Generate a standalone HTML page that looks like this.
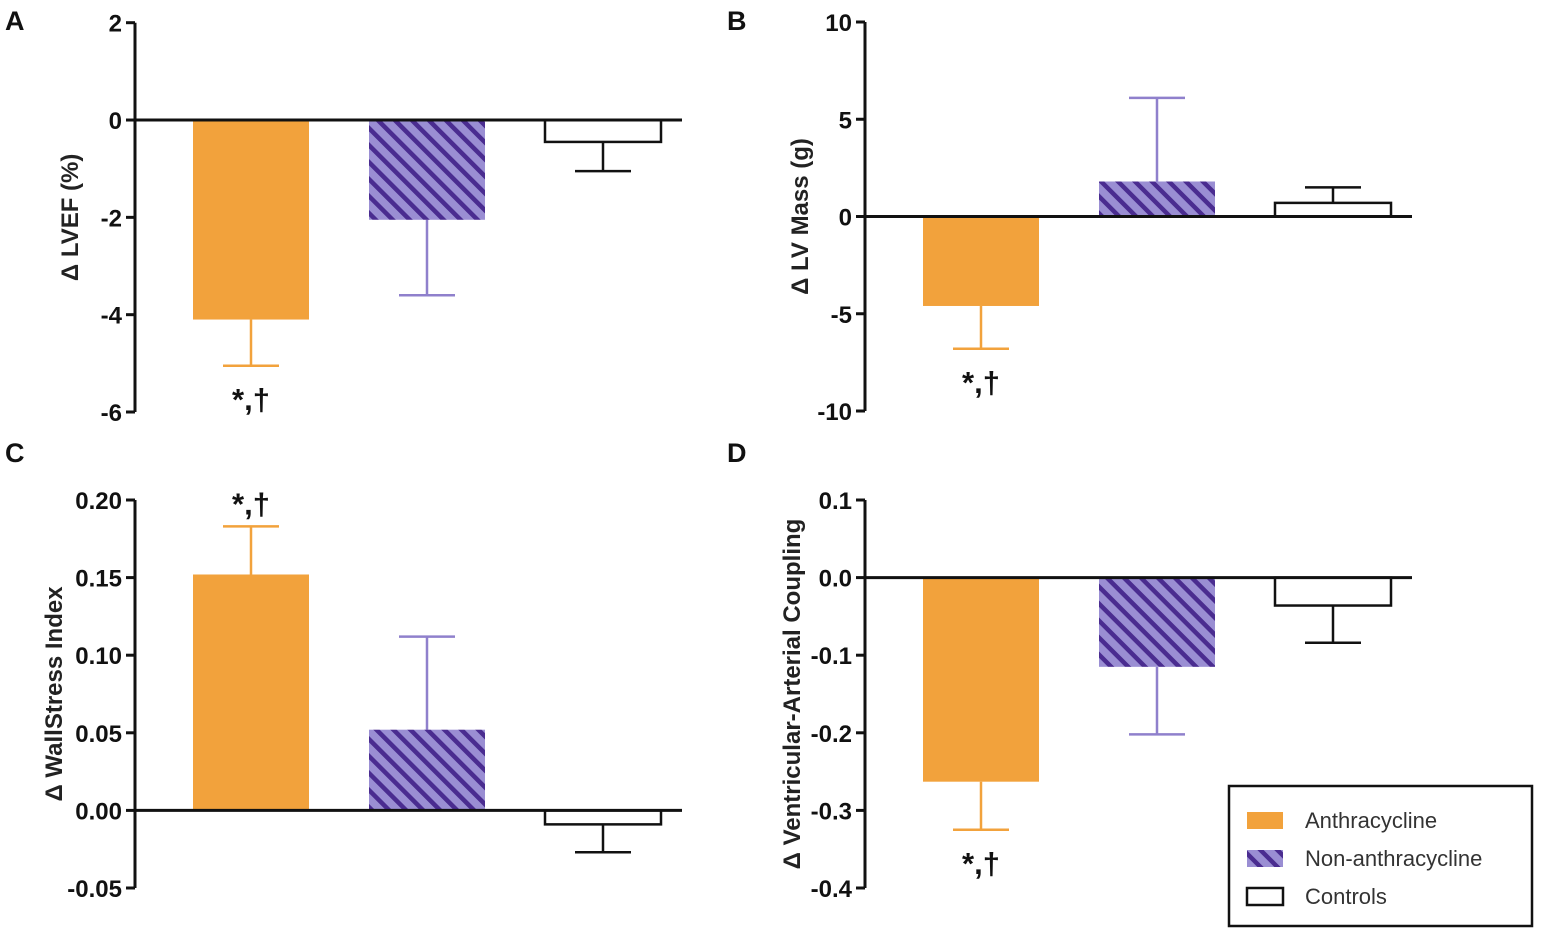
<!DOCTYPE html>
<html><head><meta charset="utf-8"><style>
body{margin:0;background:#fff}
svg{display:block}
text{font-family:"Liberation Sans",Arial,sans-serif}
</style></head><body>
<svg id="chart" width="1550" height="945" viewBox="0 0 1550 945" xmlns="http://www.w3.org/2000/svg">
<defs>
<pattern id="hatch" patternUnits="userSpaceOnUse" width="12" height="12" patternTransform="rotate(-45)">
<rect width="12" height="12" fill="#9a8ed3"/>
<rect x="0" y="0" width="4.5" height="12" fill="#4a2c90"/>
</pattern>
</defs>
</svg>
<script>
const groups = ["Anthracycline","Non-anthracycline","Controls"];
const valsA = [-4.1,-2.05,-0.45];
const errA = [-5.05,-3.6,-1.05];
const ticksA = [2,0,-2,-4,-6];
const valsB = [-4.6,1.8,0.7];
const errB = [-6.8,6.1,1.5];
const ticksB = [10,5,0,-5,-10];
const valsC = [0.152,0.052,-0.009];
const errC = [0.183,0.112,-0.027];
const ticksC = [0.20,0.15,0.10,0.05,0.00,-0.05];
const valsD = [-0.263,-0.115,-0.036];
const errD = [-0.325,-0.202,-0.084];
const ticksD = [0.1,0.0,-0.1,-0.2,-0.3,-0.4];

const svg=document.getElementById('chart');
const NS='http://www.w3.org/2000/svg';
function mk(tag,attrs,parent){const e=document.createElementNS(NS,tag);for(const k in attrs)e.setAttribute(k,attrs[k]);(parent||svg).appendChild(e);return e;}
const fills=['#f2a23c','url(#hatch)','#fff'];
const errCol=['#f2a23c','#8f80cc','#111'];

function panel(cfg){
  const g=mk('g',{});
  
  
  const y=v=>cfg.y0+(v-cfg.ticks[0])*(cfg.y1-cfg.y0)/(cfg.ticks[cfg.ticks.length-1]-cfg.ticks[0]);
  const L=mk('text',{x:cfg.lx,y:cfg.ly,'font-size':27,'font-weight':'bold',fill:'#111'},g);L.textContent=cfg.letter;
  
  
  const ax=mk('line',{x1:cfg.ax,x2:cfg.ax,y1:y(cfg.ticks[0]),y2:y(cfg.ticks[cfg.ticks.length-1]),stroke:'#111','stroke-width':3},g);
  
  
  cfg.ticks.forEach(t=>{
    mk('line',{x1:cfg.ax-9,x2:cfg.ax,y1:y(t),y2:y(t),stroke:'#111','stroke-width':3},g);
    const tx=mk('text',{x:cfg.ax-13,y:y(t)+9,'font-size':24,'font-weight':'bold','text-anchor':'end',fill:'#111'},g);
    tx.textContent=t.toFixed(cfg.dec);
    
    
  });
  const tt=mk('text',{transform:`translate(${cfg.tx},${(y(cfg.ticks[0])+y(cfg.ticks[cfg.ticks.length-1]))/2}) rotate(-90)`,'font-size':24,'font-weight':'bold','text-anchor':'middle',fill:'#222'},g);
  tt.textContent=cfg.title;
  
  
  cfg.vals.forEach((v,i)=>{
    const bx=cfg.ax+58+i*176, w=116, cx=bx+w/2;
    const top=Math.min(y(v),y(0)), h=Math.abs(y(v)-y(0));
    const e=cfg.err[i];
    const el=mk('line',{x1:cx,x2:cx,y1:y(v),y2:y(e),stroke:errCol[i],'stroke-width':2.5},g);
    
    
    mk('line',{x1:cx-28,x2:cx+28,y1:y(e),y2:y(e),stroke:errCol[i],'stroke-width':2.5},g);
    const r=mk('rect',{x:bx,y:top,width:w,height:h,fill:fills[i],stroke:i==2?'#111':'none','stroke-width':i==2?2.5:0},g);
    
    
    if(i==0){
      const st=mk('text',{x:cx,y:cfg.starBelow?y(e)+44:y(e)-12,'font-size':31,'font-weight':'bold','text-anchor':'middle',fill:'#111'},g);
      st.textContent='*,†';
      
      
    }
  });
  const z=mk('line',{x1:cfg.ax,x2:cfg.ax+547,y1:y(0),y2:y(0),stroke:'#111','stroke-width':3},g);
  
  
}
panel({letter:'A',lx:5,ly:30,ax:135,y0:22.7,y1:412,ticks:ticksA,dec:0,title:'Δ LVEF (%)',tx:78,vals:valsA,err:errA,starBelow:true});
panel({letter:'B',lx:727,ly:30,ax:865,y0:22,y1:411,ticks:ticksB,dec:0,title:'Δ LV Mass (g)',tx:808,vals:valsB,err:errB,starBelow:true});
panel({letter:'C',lx:5,ly:462,ax:135,y0:500,y1:888,ticks:ticksC,dec:2,title:'Δ WallStress Index',tx:62,vals:valsC,err:errC,starBelow:false});
panel({letter:'D',lx:727,ly:462,ax:865,y0:500,y1:888,ticks:ticksD,dec:1,title:'Δ Ventricular-Arterial  Coupling',tx:800,vals:valsD,err:errD,starBelow:true});

const lg=mk('g',{});


mk('rect',{x:1229,y:786,width:303,height:140,fill:'#fff',stroke:'#111','stroke-width':2.5},lg);
groups.forEach((n,i)=>{
  const yy=820+i*38;
  mk('rect',{x:1247,y:yy-8,width:36,height:17,fill:fills[i],stroke:i==2?'#111':'none','stroke-width':i==2?2.5:0},lg);
  const t=mk('text',{x:1305,y:yy+8,'font-size':22,fill:'#333'},lg);
  t.textContent=n;
  
  
});
</script>
</body></html>
